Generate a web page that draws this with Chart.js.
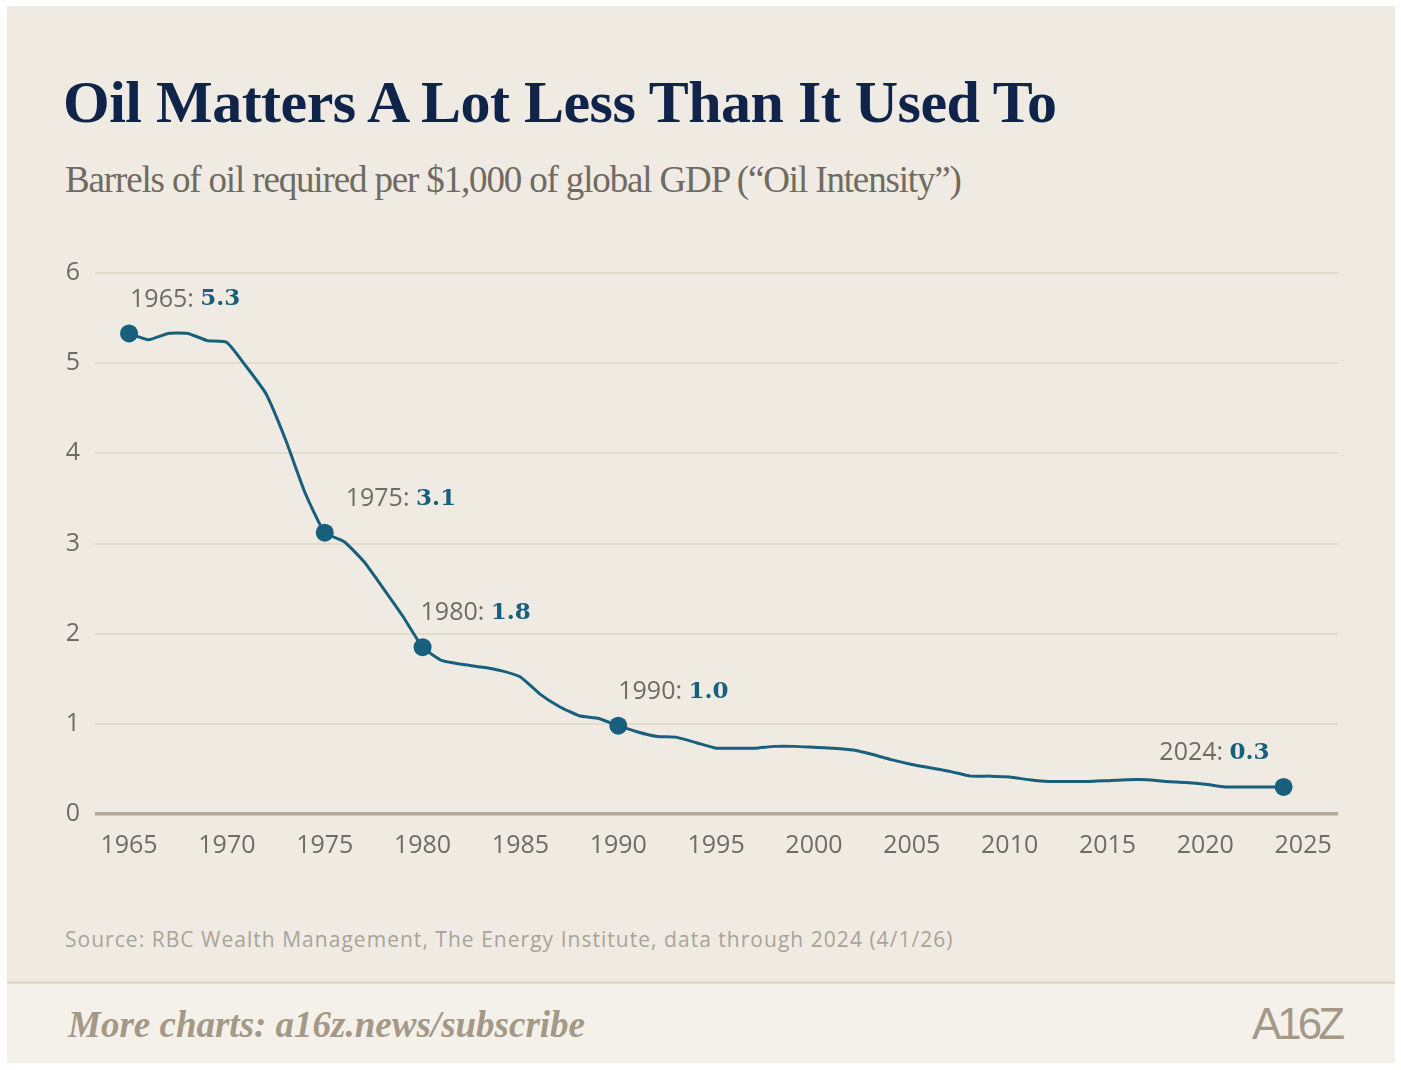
<!DOCTYPE html>
<html>
<head>
<meta charset="utf-8">
<script src="https://cdn.jsdelivr.net/npm/chart.js@4/dist/chart.umd.min.js"></script>
<style>
  html, body { margin: 0; padding: 0; background: #ffffff; }
  body { width: 1401px; height: 1070px; position: relative; overflow: hidden; }
  .card { position: absolute; left: 7px; top: 6px; width: 1388px; height: 1057px; background: #efebe3; }
  .footer { position: absolute; left: 7px; top: 981px; width: 1388px; height: 82px; background: #f4f1eb; border-top: 3px solid #e3dac8; box-sizing: border-box; }
  .title { position: absolute; left: 63px; top: 72px; font-family: "Liberation Serif", serif; font-weight: bold; font-size: 60px; line-height: 60px; color: #10244a; letter-spacing: -0.5px; white-space: nowrap; }
  .subtitle { position: absolute; left: 65px; top: 161px; font-family: "Liberation Serif", serif; font-size: 37px; line-height: 37px; color: #6f6a62; letter-spacing: -1.15px; white-space: nowrap; }
  .source { position: absolute; left: 65px; top: 926px; font-family: "Open Sans", sans-serif; font-size: 21px; line-height: 26px; color: #aaa397; letter-spacing: 1.03px; white-space: nowrap; }
  .more { position: absolute; left: 68px; top: 1005px; font-family: "Liberation Serif", serif; font-style: italic; font-weight: bold; font-size: 37px; line-height: 40px; color: #a49886; white-space: nowrap; }
  .logo { position: absolute; left: 1252px; top: 1000px; font-family: "Liberation Sans Narrow", "Liberation Sans", sans-serif; font-size: 44px; line-height: 48px; color: #a49886; letter-spacing: -4px; }
  #wrap { position: absolute; left: 0; top: 243px; width: 1401px; height: 627px; }
</style>
</head>
<body>
<div class="card"></div>
<div class="footer"></div>
<div class="title">Oil Matters A Lot Less Than It Used To</div>
<div class="subtitle">Barrels of oil required per $1,000 of global GDP (“Oil Intensity”)</div>
<div class="source">Source: RBC Wealth Management, The Energy Institute, data through 2024 (4/1/26)</div>
<div class="more">More charts: a16z.news/subscribe</div>
<div class="logo">A16Z</div>
<div id="wrap"><canvas id="oilChart"></canvas></div>
<script>
// Oil intensity, barrels per $1,000 of global GDP
const years = [
  1965, 1966, 1967, 1968, 1969, 1970, 1971, 1972, 1973, 1974,
  1975, 1976, 1977, 1978, 1979, 1980, 1981, 1982, 1983, 1984,
  1985, 1986, 1987, 1988, 1989, 1990, 1991, 1992, 1993, 1994,
  1995, 1996, 1997, 1998, 1999, 2000, 2001, 2002, 2003, 2004,
  2005, 2006, 2007, 2008, 2009, 2010, 2011, 2012, 2013, 2014,
  2015, 2016, 2017, 2018, 2019, 2020, 2021, 2022, 2023, 2024
];
const intensity = [
  5.33, 5.26, 5.33, 5.33, 5.25, 5.23, 4.96, 4.66, 4.15, 3.56,
  3.12, 3.02, 2.80, 2.50, 2.19, 1.85, 1.70, 1.66, 1.63, 1.59,
  1.52, 1.33, 1.19, 1.09, 1.06, 0.98, 0.91, 0.86, 0.85, 0.79,
  0.73, 0.73, 0.73, 0.75, 0.75, 0.74, 0.73, 0.71, 0.66, 0.60,
  0.55, 0.51, 0.47, 0.42, 0.42, 0.41, 0.38, 0.36, 0.36, 0.36,
  0.37, 0.38, 0.38, 0.36, 0.35, 0.33, 0.30, 0.30, 0.30, 0.30
];

// callouts
const calloutYears = [1965, 1975, 1980, 1990, 2024];
const calloutLabels = ["5.3", "3.1", "1.8", "1.0", "0.3"];

// axis ticks
const xTicks = [1965, 1970, 1975, 1980, 1985, 1990, 1995, 2000, 2005, 2010, 2015, 2020, 2025];
const yTicks = [0, 1, 2, 3, 4, 5, 6];

const LINE = "#175f7c";
const TICK_FONT = "Open Sans, sans-serif";
const HEAD_FONT = "400 25px Open Sans, sans-serif";
const VAL_FONT = "bold 23px 'DejaVu Serif', serif";

// label placement relative to its dot (dx, align)
const calloutStyle = {
  1965: { dx: 1, align: "left" },
  1975: { dx: 21, align: "left" },
  1980: { dx: -2, align: "left" },
  1990: { dx: 0, align: "left" },
  2024: { dx: -14, align: "right" }
};

const calloutPlugin = {
  id: "callouts",
  afterDatasetsDraw(chart) {
    const { ctx, scales } = chart;
    ctx.save();
    ctx.textBaseline = "middle";
    ctx.textAlign = "left";
    calloutYears.forEach((yr, i) => {
      const v = intensity[years.indexOf(yr)];
      const px = scales.x.getPixelForValue(yr);
      const py = scales.y.getPixelForValue(v);
      const st = calloutStyle[yr];
      const head = yr + ": ";
      ctx.font = HEAD_FONT;
      const wHead = ctx.measureText(head).width;
      ctx.font = VAL_FONT;
      const wVal = ctx.measureText(calloutLabels[i]).width;
      let x0 = px + st.dx;
      if (st.align === "right") x0 -= wHead + wVal;
      const y0 = py - 34;
      ctx.font = HEAD_FONT;
      ctx.fillStyle = "#6f6b65";
      ctx.fillText(head, x0, y0);
      ctx.font = VAL_FONT;
      ctx.fillStyle = LINE;
      ctx.fillText(calloutLabels[i], x0 + wHead, y0);
    });
    ctx.restore();
  }
};

new Chart(document.getElementById("oilChart"), {
  type: "line",
  data: {
    datasets: [{
      data: years.map((y, i) => ({ x: y, y: intensity[i] })),
      borderColor: LINE,
      backgroundColor: LINE,
      borderWidth: 3,
      tension: 0.15,
      pointRadius: ctx => calloutYears.includes(years[ctx.dataIndex]) ? 9 : 0,
      pointHoverRadius: 0,
      pointBackgroundColor: LINE,
      pointBorderWidth: 0
    }]
  },
  options: {
    responsive: true,
    maintainAspectRatio: false,
    animation: false,
    layout: { padding: { top: 0, right: 63, bottom: 0, left: 0 } },
    plugins: {
      legend: { display: false },
      tooltip: { enabled: false }
    },
    scales: {
      x: {
        type: "linear",
        min: 1963.26,
        max: 2026.78,
        afterBuildTicks: axis => { axis.ticks = xTicks.map(v => ({ value: v })); },
        afterFit: axis => { axis.height = 56; },
        grid: { display: false },
        border: { display: false },
        ticks: {
          color: "#6f6b65",
          font: { family: TICK_FONT, size: 25 },
          padding: 9,
          maxRotation: 0,
          autoSkip: false,
          callback: v => String(v)
        }
      },
      y: {
        min: 0,
        max: 6,
        afterBuildTicks: axis => { axis.ticks = yTicks.map(v => ({ value: v })); },
        afterFit: axis => { axis.width = 95; },
        grid: {
          color: ctx => ctx.tick && ctx.tick.value === 0 ? "#b3a897" : "#e4dccb",
          lineWidth: ctx => ctx.tick && ctx.tick.value === 0 ? 3.5 : 2,
          drawTicks: false
        },
        border: { display: false },
        ticks: {
          color: "#6f6b65",
          font: { family: TICK_FONT, size: 25 },
          padding: 15
        }
      }
    }
  },
  plugins: [calloutPlugin]
});
</script>
</body>
</html>
